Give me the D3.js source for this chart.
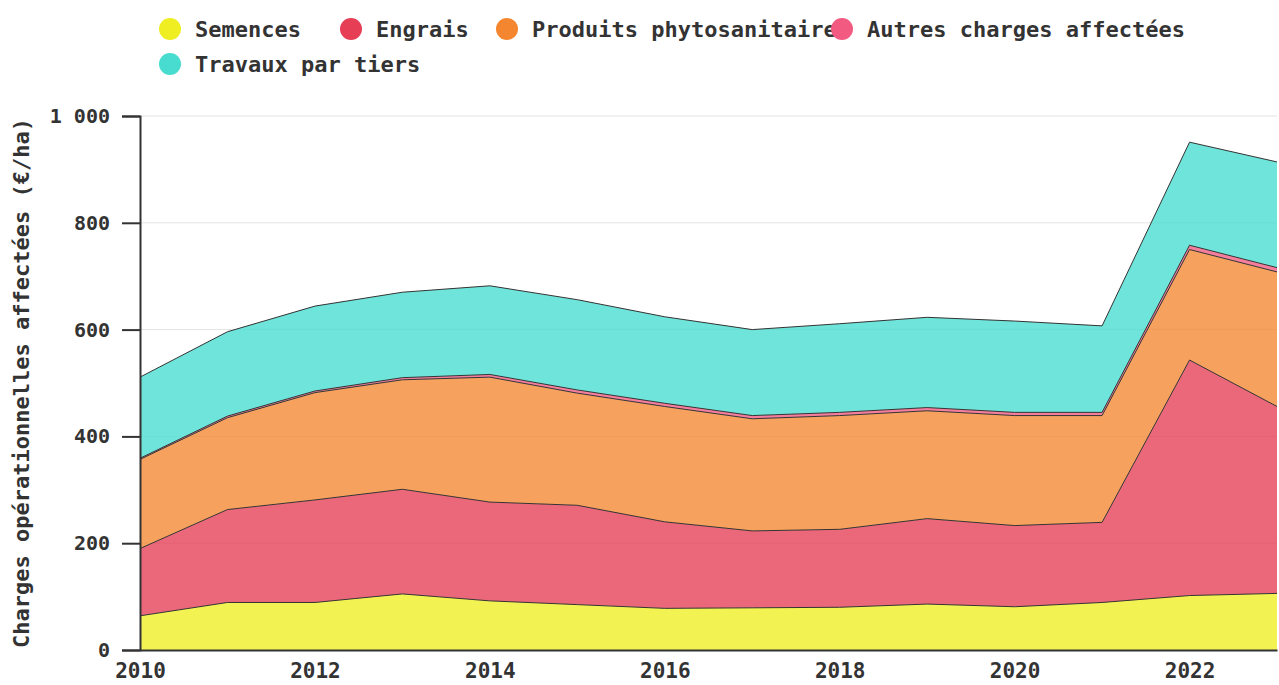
<!DOCTYPE html>
<html>
<head>
<meta charset="utf-8">
<script src="https://cdn.jsdelivr.net/npm/d3@7"></script>
<style>
	body { margin: 0; background: #fff; }
	text { font-family: "DejaVu Sans Mono", monospace; font-weight: bold; fill: #333; }
</style>
</head>
<body>
<svg id="chart" width="1279" height="685"></svg>
<script>
// values, in €/ha
const years = [2010, 2011, 2012, 2013, 2014, 2015, 2016, 2017, 2018, 2019, 2020, 2021, 2022, 2023];
const semences = [64, 89, 89, 105, 92, 85, 78, 79, 80, 86, 81, 89, 102, 106];
const engrais = [126, 174, 192, 196, 185, 186, 162, 144, 146, 160, 152, 150, 441, 350];
const phyto = [167, 172, 201, 205, 234, 210, 216, 210, 213, 202, 206, 200, 207, 252];
const autres = [2, 3, 3, 4, 5, 6, 6, 6, 6, 6, 6, 6, 8, 8];
const travaux = [152, 158, 159, 160, 166, 169, 162, 161, 166, 169, 171, 162, 193, 198];

const seriesNames = ["Semences", "Engrais", "Produits phytosanitaire", "Autres charges affectées", "Travaux par tiers"];
const seriesColors = ["#efee22", "#e53e55", "#f4862f", "#f25a82", "#47dccf"];
const yTicks = [0, 200, 400, 600, 800, 1000];
const xTicks = [2010, 2012, 2014, 2016, 2018, 2020, 2022];

const keys = ["semences", "engrais", "phyto", "autres", "travaux"];
const table = years.map((y, i) => ({
	year: y,
	semences: semences[i],
	engrais: engrais[i],
	phyto: phyto[i],
	autres: autres[i],
	travaux: travaux[i]
}));

const svg = d3.select("#chart");
const margin = { left: 140, right: 2, top: 116, bottom: 35 };
const width = 1279 - margin.left - margin.right;
const height = 685 - margin.top - margin.bottom;

const x = d3.scaleLinear().domain([2010, 2023]).range([0, width]);
const y = d3.scaleLinear().domain([0, 1000]).range([height, 0]);

const g = svg.append("g").attr("transform", `translate(${margin.left},${margin.top})`);

// grid
g.append("g")
	.selectAll("line")
	.data(yTicks.slice(1))
	.join("line")
	.attr("x1", 0)
	.attr("x2", width)
	.attr("y1", d => y(d))
	.attr("y2", d => y(d))
	.attr("stroke", "#e3e3e3")
	.attr("stroke-width", 1);

const stacked = d3.stack().keys(keys)(table);

const area = d3.area()
	.x(d => x(d.data.year))
	.y0(d => y(d[0]))
	.y1(d => y(d[1]));

const topLine = d3.line()
	.x(d => x(d.data.year))
	.y(d => y(d[1]));

g.append("g")
	.selectAll("path")
	.data(stacked)
	.join("path")
	.attr("d", area)
	.attr("fill", (d, i) => seriesColors[i])
	.attr("fill-opacity", 0.78);

g.append("g")
	.selectAll("path")
	.data(stacked)
	.join("path")
	.attr("d", topLine)
	.attr("fill", "none")
	.attr("stroke", "#333")
	.attr("stroke-width", 1);

// axes
const yAxis = g.append("g")
	.call(d3.axisLeft(y)
		.tickValues(yTicks)
		.tickSize(18)
		.tickPadding(12)
		.tickFormat(d => d3.format(",")(d).replace(",", " ")));

const xAxis = g.append("g")
	.attr("transform", `translate(0,${height})`)
	.call(d3.axisBottom(x)
		.tickValues(xTicks)
		.tickSize(0)
		.tickPadding(13)
		.tickFormat(d3.format("d")));

[yAxis, xAxis].forEach(ax => {
	ax.select(".domain").attr("stroke", "#333").attr("stroke-width", 2);
	ax.selectAll(".tick line").attr("stroke", "#333").attr("stroke-width", 2);
	ax.selectAll(".tick text")
		.style("font-family", "'DejaVu Sans Mono', monospace")
		.style("font-weight", "bold")
		.style("font-size", "20px")
		.attr("fill", "#333");
});
xAxis.selectAll(".tick text").style("font-size", "21px");

// y title
svg.append("text")
	.attr("transform", `translate(29,${margin.top + height / 2}) rotate(-90)`)
	.attr("text-anchor", "middle")
	.style("font-size", "22px")
	.text("Charges opérationnelles affectées (€/ha)");

// legend
const legendPos = [[170, 29], [351, 29], [507, 29], [842, 29], [170, 64]];
const legend = svg.append("g")
	.selectAll("g")
	.data(seriesNames)
	.join("g")
	.attr("transform", (d, i) => `translate(${legendPos[i][0]},${legendPos[i][1]})`);

legend.append("circle")
	.attr("r", 11)
	.attr("fill", (d, i) => seriesColors[i]);

legend.append("text")
	.attr("x", 25)
	.attr("dy", "0.35em")
	.style("font-size", "22px")
	.text(d => d);
</script>
</body>
</html>
